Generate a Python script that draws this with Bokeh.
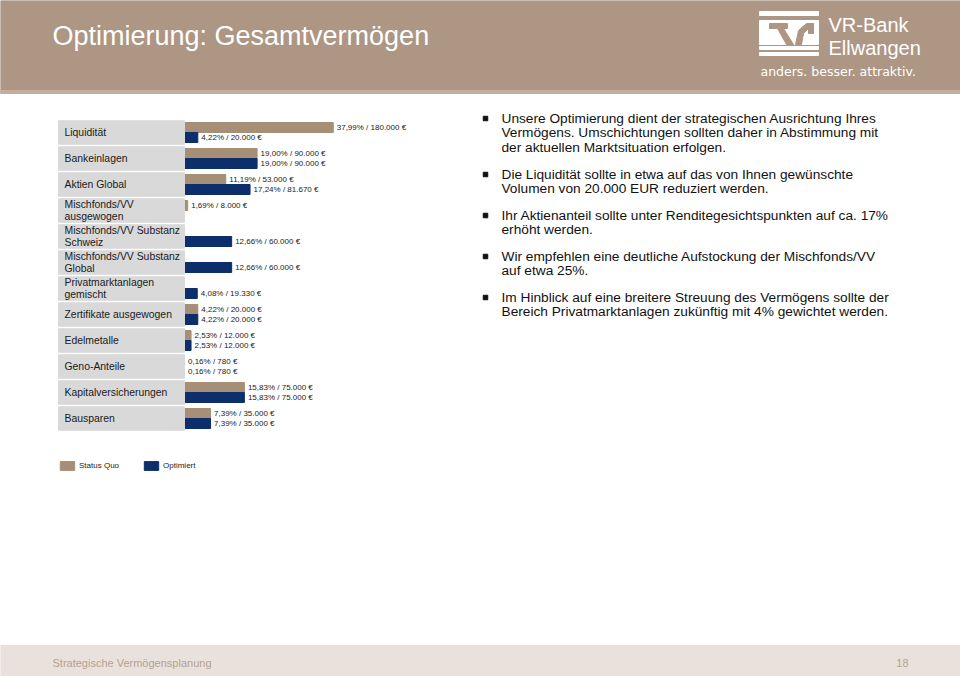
from bokeh.plotting import figure
from bokeh.models import Range1d, ColumnDataSource, Legend, LegendItem
from bokeh.core.properties import value
from bokeh.embed import file_html
from bokeh.resources import INLINE

# ---------------- data ----------------
categories = [
    "Liquidität",
    "Bankeinlagen",
    "Aktien Global",
    "Mischfonds/VV\nausgewogen",
    "Mischfonds/VV Substanz\nSchweiz",
    "Mischfonds/VV Substanz\nGlobal",
    "Privatmarktanlagen\ngemischt",
    "Zertifikate ausgewogen",
    "Edelmetalle",
    "Geno-Anteile",
    "Kapitalversicherungen",
    "Bausparen",
]
status_quo_pct = [37.99, 19.00, 11.19, 1.69, 0, 0, 0, 4.22, 2.53, 0.16, 15.83, 7.39]
status_quo_eur = [180000, 90000, 53000, 8000, 0, 0, 0, 20000, 12000, 780, 75000, 35000]
optimiert_pct = [4.22, 19.00, 17.24, 0, 12.66, 12.66, 4.08, 4.22, 2.53, 0.16, 15.83, 7.39]
optimiert_eur = [20000, 90000, 81670, 0, 60000, 60000, 19330, 20000, 12000, 780, 75000, 35000]
series_names = ["Status Quo", "Optimiert"]

title_text = "Optimierung: Gesamtvermögen"
paragraphs = [
    "Unsere Optimierung dient der strategischen Ausrichtung Ihres\nVermögens. Umschichtungen sollten daher in Abstimmung mit\nder aktuellen Marktsituation erfolgen.",
    "Die Liquidität sollte in etwa auf das von Ihnen gewünschte\nVolumen von 20.000 EUR reduziert werden.",
    "Ihr Aktienanteil sollte unter Renditegesichtspunkten auf ca. 17%\nerhöht werden.",
    "Wir empfehlen eine deutliche Aufstockung der Mischfonds/VV\nauf etwa 25%.",
    "Im Hinblick auf eine breitere Streuung des Vermögens sollte der\nBereich Privatmarktanlagen zukünftig mit 4% gewichtet werden.",
]
footer_text = "Strategische Vermögensplanung"
page_number = "18"

# ---------------- style ----------------
FONT = "Liberation Sans"
BAND = "#ae9684"
TAN = "#a68e77"
NAVY = "#0c2e6b"
GRAY = "#d9d9d9"
FOOT = "#e9e1db"
FOOT_TXT = "#b5a292"

W, H = 960, 676


def X(x):
    return x


def Y(y):
    return y


p = figure(width=W, height=H, x_range=Range1d(0, W), y_range=Range1d(H, 0),
           x_axis_type=None, y_axis_type=None, output_backend="svg",
           toolbar_location=None, min_border=0)
p.grid.visible = False
p.outline_line_color = None
p.background_fill_color = "white"
p.border_fill_color = "white"

# chart scales: 0 % at page x=180.4, 4.01 px per %; rows 26 px apart, first row centred at page y=132
ZERO_X, PX_PCT = 180.4, 4.01
ROW0_Y, ROW_H = 132, 26
p.extra_x_ranges = {"pct": Range1d(start=-X(ZERO_X) / PX_PCT, end=(W - X(ZERO_X)) / PX_PCT)}
p.extra_y_ranges = {"rows": Range1d(start=(H - Y(ROW0_Y)) / ROW_H, end=-Y(ROW0_Y) / ROW_H)}

# ---------------- header ----------------
p.quad(left=X(0), right=X(960), top=Y(0), bottom=Y(93), color=BAND)
p.quad(left=X(0), right=X(960), top=Y(90), bottom=Y(93), color="#c2ae9f")
p.text(x=[X(52)], y=[Y(35)], text=[title_text], text_font=value(FONT),
       text_font_size="27px", text_color="white", text_baseline="middle")

# logo
for top, bottom in ((11, 15), (20, 44), (46, 49), (52, 55)):
    p.quad(left=X(759), right=X(818), top=Y(top), bottom=Y(bottom), color="white")
p.patch(x=[X(v) for v in (769, 787, 787, 783, 793, 786, 777, 769)],
        y=[Y(v) for v in (23, 23, 28, 28, 44, 44, 28, 28)], color=BAND)
p.patch(x=[X(v) for v in (795, 798, 806, 813, 813, 808, 808, 803, 801)],
        y=[Y(v) for v in (44, 30, 23, 23, 33, 33, 28, 33, 44)], color=BAND)
p.text(x=[X(828)], y=[Y(24)], text=["VR-Bank"], text_font=value(FONT),
       text_font_size="20px", text_color="white", text_baseline="middle")
p.text(x=[X(828)], y=[Y(47)], text=["Ellwangen"], text_font=value(FONT),
       text_font_size="20px", text_color="white", text_baseline="middle")
p.text(x=[X(760)], y=[Y(71)], text=["anders. besser. attraktiv."], text_font=value("DejaVu Sans"),
       text_font_size="12.5px", text_color="white", text_baseline="middle")

# ---------------- bars ----------------
idx = list(range(len(categories)))
src = ColumnDataSource(dict(
    y_sq=[i - 5 / ROW_H for i in idx],
    y_opt=[i + 5 / ROW_H for i in idx],
    sq=status_quo_pct,
    opt=optimiert_pct,
))
r_sq = p.hbar(y="y_sq", left=0, right="sq", height=10 / ROW_H, source=src,
              x_range_name="pct", y_range_name="rows", color=TAN)
r_opt = p.hbar(y="y_opt", left=0, right="opt", height=10 / ROW_H, source=src,
               x_range_name="pct", y_range_name="rows", color=NAVY)

# category boxes (cover the bars' origin)
p.hbar(y=idx, left=X(58), right=X(184), height=23.5 / ROW_H,
       y_range_name="rows", color=GRAY)
p.text(x=X(64), y=idx, text=categories, y_range_name="rows",
       text_font=value(FONT), text_font_size="10.4px", text_color="#1a1a1a",
       text_baseline="middle", text_line_height=1.1)


def fmt(pct, eur):
    return (f"{pct:.2f}".replace(".", ",") + "% / "
            + f"{eur:,}".replace(",", ".") + " €")


box_edge_pct = (184 - ZERO_X) / PX_PCT
lx, ly, lt = [], [], []
for i in idx:
    for pct, eur, off in ((status_quo_pct[i], status_quo_eur[i], -5),
                          (optimiert_pct[i], optimiert_eur[i], 5)):
        if pct > 0:
            lx.append(max(pct, box_edge_pct))
            ly.append(i + off / ROW_H)
            lt.append(fmt(pct, eur))
p.text(x=lx, y=ly, text=lt, x_range_name="pct", y_range_name="rows",
       x_offset=3.5, text_font=value(FONT), text_font_size="8px",
       text_color="#222222", text_baseline="middle")

legend = Legend(items=[LegendItem(label=series_names[0], renderers=[r_sq]),
                       LegendItem(label=series_names[1], renderers=[r_opt])],
                location=(X(58), H - Y(471)), orientation="horizontal",
                glyph_width=18, glyph_height=11, label_height=11, label_width=20,
                label_standoff=3, spacing=23, padding=0, margin=0,
                label_text_font=FONT, label_text_font_size="8px",
                label_text_color="#222222",
                border_line_alpha=0, background_fill_alpha=0)
p.add_layout(legend)

# ---------------- right-hand text ----------------
first_line_y = [118, 174, 215, 256, 297]
p.scatter(x=[X(485)] * len(first_line_y), y=[Y(v) for v in first_line_y],
          marker="square", size=4.5, color="#111111")
p.text(x=[X(501)] * len(paragraphs), y=[Y(v - 8) for v in first_line_y], text=paragraphs,
       text_font=value(FONT), text_font_size="13.7px", text_color="#111111",
       text_baseline="top", text_line_height=0.98)

# ---------------- footer ----------------
p.quad(left=X(0), right=X(960), top=Y(645), bottom=Y(680), color=FOOT)
p.text(x=[X(52)], y=[Y(662)], text=[footer_text], text_font=value(FONT),
       text_font_size="11px", text_color=FOOT_TXT, text_baseline="middle")
p.text(x=[X(908)], y=[Y(662)], text=[page_number], text_font=value(FONT),
       text_font_size="11px", text_color=FOOT_TXT, text_baseline="middle",
       text_align="right")

open("out.html", "w").write(file_html(p, INLINE))
